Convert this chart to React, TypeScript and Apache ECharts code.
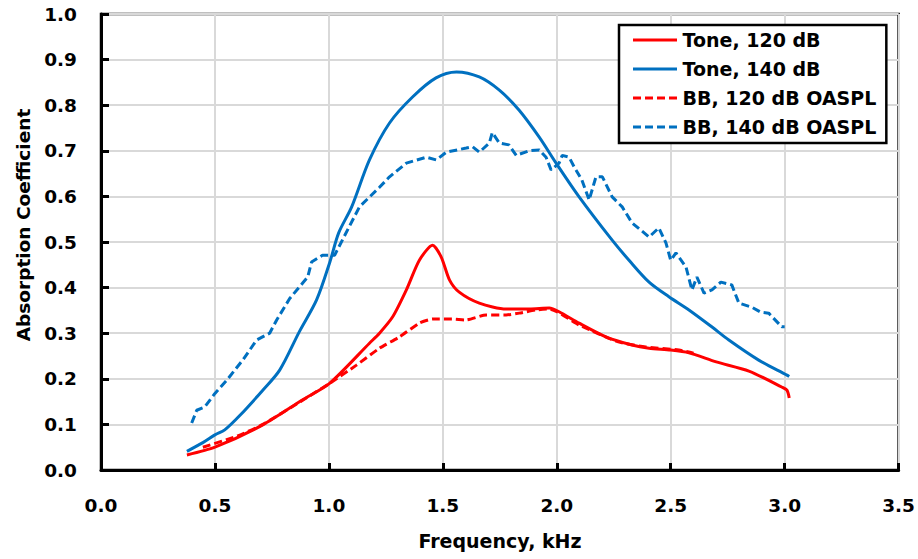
import React, { useEffect, useRef } from "react";
import * as echarts from "echarts";

const xTicks = [0, 0.5, 1.0, 1.5, 2.0, 2.5, 3.0, 3.5];
const yTicks = [0, 0.1, 0.2, 0.3, 0.4, 0.5, 0.6, 0.7, 0.8, 0.9, 1.0];

const seriesNames = ["Tone, 120 dB", "Tone, 140 dB", "BB, 120 dB OASPL", "BB, 140 dB OASPL"];

const tone120: [number, number][] = [
  [0.377, 0.033], [0.5, 0.05], [0.71, 0.099], [0.885, 0.154], [1.003, 0.19],
  [1.178, 0.278], [1.222, 0.3], [1.28, 0.336], [1.34, 0.395], [1.397, 0.46],
  [1.455, 0.493], [1.493, 0.467], [1.529, 0.417], [1.572, 0.39], [1.66, 0.366],
  [1.778, 0.353], [1.88, 0.353], [1.967, 0.355], [2.01, 0.347], [2.098, 0.322],
  [2.216, 0.292], [2.33, 0.274], [2.405, 0.267], [2.5, 0.263], [2.58, 0.257],
  [2.7, 0.237], [2.843, 0.217], [2.987, 0.182], [3.01, 0.175], [3.02, 0.158],
];

const tone140: [number, number][] = [
  [0.377, 0.041], [0.447, 0.06], [0.5, 0.077], [0.543, 0.088], [0.61, 0.12],
  [0.71, 0.175], [0.784, 0.219], [0.87, 0.303], [0.946, 0.373], [1.003, 0.454],
  [1.043, 0.52], [1.1, 0.577], [1.178, 0.68], [1.266, 0.761], [1.367, 0.818],
  [1.47, 0.86], [1.56, 0.873], [1.66, 0.862], [1.748, 0.833], [1.835, 0.789],
  [1.923, 0.73], [1.997, 0.673], [2.098, 0.599], [2.243, 0.504], [2.317, 0.46],
  [2.405, 0.412], [2.492, 0.38], [2.58, 0.351], [2.68, 0.314], [2.755, 0.285],
  [2.886, 0.241], [3.01, 0.208], [3.02, 0.205],
];

const bb120: [number, number][] = [
  [0.447, 0.05], [0.6, 0.075], [0.71, 0.1], [0.885, 0.153], [1.003, 0.19],
  [1.121, 0.23], [1.222, 0.267], [1.31, 0.292], [1.397, 0.322], [1.455, 0.331],
  [1.54, 0.331], [1.6, 0.329], [1.69, 0.34], [1.778, 0.34], [1.835, 0.344],
  [1.91, 0.351], [1.967, 0.353], [2.098, 0.318], [2.27, 0.281], [2.39, 0.27],
  [2.536, 0.263], [2.6, 0.256],
];

const bb140: [number, number][] = [
  [0.398, 0.103], [0.42, 0.131], [0.455, 0.138], [0.5, 0.168], [0.552, 0.197],
  [0.622, 0.241], [0.683, 0.285], [0.74, 0.3], [0.771, 0.329], [0.828, 0.376],
  [0.885, 0.41], [0.907, 0.423], [0.924, 0.456], [0.972, 0.471], [1.025, 0.471],
  [1.134, 0.577], [1.222, 0.62], [1.266, 0.643], [1.34, 0.673], [1.428, 0.686],
  [1.472, 0.68], [1.515, 0.697], [1.603, 0.706], [1.63, 0.709], [1.66, 0.697],
  [1.704, 0.717], [1.717, 0.74], [1.748, 0.717], [1.79, 0.713], [1.822, 0.69],
  [1.879, 0.7], [1.923, 0.702], [1.953, 0.686], [1.975, 0.658], [2.01, 0.673],
  [2.024, 0.69], [2.054, 0.686], [2.076, 0.665], [2.11, 0.636], [2.142, 0.592],
  [2.172, 0.643], [2.2, 0.643], [2.243, 0.599], [2.287, 0.577], [2.33, 0.542],
  [2.405, 0.511], [2.448, 0.531], [2.479, 0.498], [2.5, 0.46], [2.523, 0.476],
  [2.567, 0.445], [2.593, 0.395], [2.615, 0.423], [2.646, 0.388], [2.681, 0.395],
  [2.72, 0.412], [2.768, 0.406], [2.799, 0.366], [2.856, 0.357], [2.895, 0.346],
  [2.93, 0.344], [2.987, 0.314], [3.0, 0.314],
];

const FONT = "DejaVu Sans";
const RED = "#FF0000";
const BLUE = "#0070C0";

const SOLID_ICON = "path://M0,0h44v3h-44z";
const DASH_ICON = "path://M0,0h8v3h-8z M12,0h8v3h-8z M24,0h8v3h-8z M36,0h8v3h-8z";

export default function App() {
  const ref = useRef<HTMLDivElement>(null);
  useEffect(() => {
    if (!ref.current) return;
    const chart = echarts.init(ref.current, undefined, { renderer: "svg" });
    const labelStyle = {
      fontFamily: FONT,
      fontWeight: "bold" as const,
      fontSize: 18.5,
      color: "#000",
    };
    chart.setOption({
      animation: false,
      backgroundColor: "#fff",
      grid: {
        left: 101,
        right: 18,
        top: 14,
        bottom: 89,
        show: true,
        borderColor: "#000",
        borderWidth: 2.5,
        backgroundColor: "transparent",
      },
      xAxis: {
        type: "value",
        min: xTicks[0],
        max: xTicks[xTicks.length - 1],
        interval: 0.5,
        axisLine: { show: true, lineStyle: { color: "#000", width: 3 } },
        axisTick: { show: true, inside: true, length: 7, lineStyle: { color: "#000", width: 3 } },
        splitLine: { show: true, lineStyle: { color: "#d9d9d9", width: 2 } },
        axisLabel: { ...labelStyle, margin: 26, formatter: (v: number) => v.toFixed(1) },
      },
      yAxis: {
        type: "value",
        min: yTicks[0],
        max: yTicks[yTicks.length - 1],
        interval: 0.1,
        axisLine: { show: true, lineStyle: { color: "#000", width: 3 } },
        axisTick: { show: true, inside: true, length: 8, lineStyle: { color: "#000", width: 3 } },
        splitLine: { show: true, lineStyle: { color: "#d9d9d9", width: 2 } },
        axisLabel: { ...labelStyle, margin: 24, formatter: (v: number) => v.toFixed(1) },
      },
      legend: {
        orient: "vertical",
        left: 619,
        top: 25,
        padding: [5, 10, 6, 14],
        itemWidth: 45,
        itemHeight: 3,
        itemGap: 9,
        borderColor: "#000",
        borderWidth: 2.5,
        backgroundColor: "#fff",
        data: [
          { name: seriesNames[0], icon: SOLID_ICON, itemStyle: { color: RED } },
          { name: seriesNames[1], icon: SOLID_ICON, itemStyle: { color: BLUE } },
          { name: seriesNames[2], icon: DASH_ICON, itemStyle: { color: RED } },
          { name: seriesNames[3], icon: DASH_ICON, itemStyle: { color: BLUE } },
        ],
        textStyle: {
          fontFamily: FONT,
          fontWeight: "bold",
          fontSize: 19,
          lineHeight: 20,
          color: "#000",
        },
      },
      series: [
        {
          name: seriesNames[0],
          type: "line",
          data: tone120,
          symbol: "none",
          smooth: 0.25,
          lineStyle: { color: RED, width: 3 },
          itemStyle: { color: RED },
        },
        {
          name: seriesNames[1],
          type: "line",
          data: tone140,
          symbol: "none",
          smooth: 0.3,
          lineStyle: { color: BLUE, width: 3 },
          itemStyle: { color: BLUE },
        },
        {
          name: seriesNames[2],
          type: "line",
          data: bb120,
          symbol: "none",
          smooth: 0.2,
          lineStyle: { color: RED, width: 3, type: [8, 4] },
          itemStyle: { color: RED },
        },
        {
          name: seriesNames[3],
          type: "line",
          data: bb140,
          symbol: "none",
          lineStyle: { color: BLUE, width: 3, type: [8, 4] },
          itemStyle: { color: BLUE },
        },
      ],
      graphic: [
        {
          type: "text",
          x: 500,
          y: 541,
          style: {
            text: "Frequency, kHz",
            fontFamily: FONT,
            fontWeight: "bold",
            fontSize: 19,
            fill: "#000",
            align: "center",
            verticalAlign: "middle",
          },
        },
        {
          type: "text",
          x: 23,
          y: 225,
          rotation: Math.PI / 2,
          style: {
            text: "Absorption Coefficient",
            fontFamily: FONT,
            fontWeight: "bold",
            fontSize: 18.5,
            fill: "#000",
            align: "center",
            verticalAlign: "middle",
          },
        },
      ],
    });
    return () => chart.dispose();
  }, []);
  return (
    <div
      ref={ref}
      style={{ position: "fixed", left: 0, top: 0, width: 918, height: 559, background: "#fff" }}
    />
  );
}
